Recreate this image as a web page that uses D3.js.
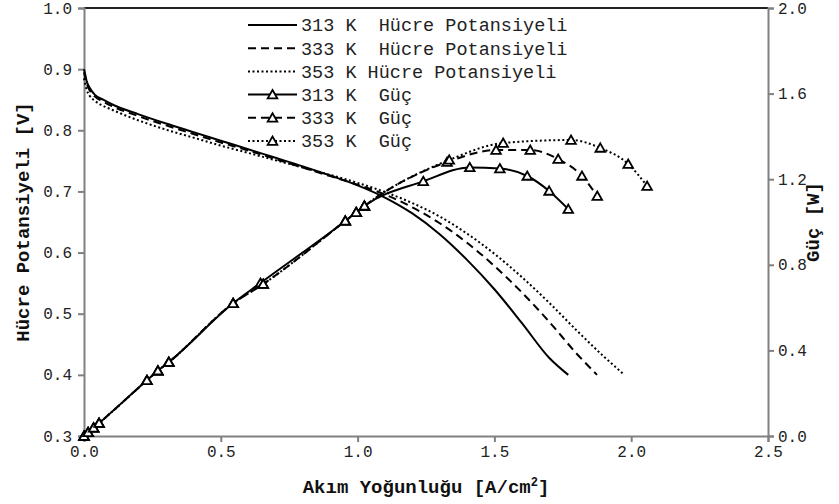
<!DOCTYPE html>
<meta charset="utf-8">
<style>
	body { margin: 0; background: #fff; }
	text { font-family: "Courier New", "Liberation Mono", monospace; }
	.axis path, .axis line { stroke: #808080; stroke-width: 2px; }
	.axis text { font-size: 16px; fill: #222; }
	.title { font-size: 19px; font-weight: bold; fill: #111; }
	.legend text { font-size: 18.5px; fill: #222; }
</style>
<svg id="chart" width="839" height="504"></svg>
<script src="https://d3js.org/d3.v7.min.js"></script>
<script>
	// current density [A/cm2], cell potential [V]
	var v313 = [[0,0.900],[0.005,0.890],[0.01,0.880],[0.02,0.870],[0.04,0.858],[0.07,0.850],[0.1,0.843],[0.2,0.826],[0.3,0.811],[0.4,0.797],[0.5,0.783],[0.6,0.769],[0.7,0.755],[0.8,0.741],[0.9,0.726],[1.0,0.710],[1.1,0.690],[1.2,0.664],[1.3,0.630],[1.4,0.588],[1.5,0.540],[1.6,0.485],[1.7,0.428],[1.77,0.400]];
	var v333 = [[0,0.895],[0.005,0.885],[0.01,0.876],[0.02,0.866],[0.04,0.855],[0.07,0.847],[0.1,0.840],[0.2,0.823],[0.3,0.808],[0.4,0.794],[0.5,0.780],[0.6,0.767],[0.7,0.753],[0.8,0.739],[0.9,0.725],[1.0,0.711],[1.1,0.695],[1.2,0.674],[1.3,0.648],[1.4,0.616],[1.5,0.578],[1.6,0.535],[1.7,0.487],[1.8,0.435],[1.875,0.400]];
	var v353 = [[0,0.885],[0.005,0.875],[0.01,0.866],[0.02,0.857],[0.04,0.848],[0.07,0.840],[0.1,0.834],[0.2,0.816],[0.3,0.801],[0.4,0.788],[0.5,0.775],[0.6,0.763],[0.7,0.751],[0.8,0.739],[0.9,0.727],[1.0,0.714],[1.1,0.699],[1.2,0.681],[1.3,0.659],[1.4,0.631],[1.5,0.598],[1.6,0.560],[1.7,0.518],[1.8,0.473],[1.9,0.430],[1.975,0.400]];

	// current density [A/cm2], power [W]
	var p313 = [[0,0],[0.015,0.017],[0.035,0.038],[0.055,0.060],[0.23,0.26],[0.27,0.305],[0.31,0.345],[0.545,0.62],[0.645,0.715],[0.955,1.005],[0.995,1.045],[1.025,1.075],[1.24,1.19],[1.41,1.255],[1.52,1.25],[1.62,1.215],[1.70,1.145],[1.77,1.06]];
	var p333 = [[0,0],[0.015,0.017],[0.035,0.038],[0.055,0.060],[0.23,0.26],[0.27,0.305],[0.31,0.345],[0.545,0.62],[0.655,0.71],[0.955,1.005],[0.995,1.045],[1.025,1.075],[1.327,1.28],[1.506,1.336],[1.631,1.336],[1.733,1.294],[1.82,1.215],[1.876,1.121]];
	var p353 = [[0,0],[0.015,0.017],[0.035,0.038],[0.055,0.060],[0.23,0.26],[0.27,0.305],[0.31,0.345],[0.545,0.62],[0.655,0.71],[0.955,1.005],[0.995,1.045],[1.025,1.075],[1.335,1.29],[1.532,1.369],[1.78,1.383],[1.887,1.346],[1.989,1.271],[2.058,1.168]];

	var xTicks = [0, 0.5, 1.0, 1.5, 2.0, 2.5];
	var yLeftTicks = [0.3, 0.4, 0.5, 0.6, 0.7, 0.8, 0.9, 1.0];
	var yRightTicks = [0, 0.4, 0.8, 1.2, 1.6, 2.0];

	var legendLabels = ["313 K  Hücre Potansiyeli", "333 K  Hücre Potansiyeli", "353 K Hücre Potansiyeli", "313 K  Güç", "333 K  Güç", "353 K  Güç"];

	var svg = d3.select("#chart"),
		margin = {top: 8, right: 71, bottom: 68, left: 84},
		width = +svg.attr("width") - margin.left - margin.right,
		height = +svg.attr("height") - margin.top - margin.bottom,
		g = svg.append("g").attr("transform", "translate(" + margin.left + "," + margin.top + ")");

	var x = d3.scaleLinear().domain([0, 2.5]).range([0, width]),
		yL = d3.scaleLinear().domain([0.3, 1.0]).range([height, 0]),
		yR = d3.scaleLinear().domain([0, 2.0]).range([height, 0]);

	var dashes = ["none", "8,5", "2,2.5"];

	// top border of plot area
	g.append("line")
		.attr("x1", 0).attr("x2", width)
		.attr("y1", 0).attr("y2", 0)
		.attr("stroke", "#222").attr("stroke-width", 2);

	g.append("g")
		.attr("class", "axis")
		.attr("transform", "translate(0," + height + ")")
		.call(d3.axisBottom(x).tickValues(xTicks).tickFormat(d3.format(".1f")).tickSizeOuter(0).tickSize(6).tickPadding(4));

	g.append("g")
		.attr("class", "axis")
		.call(d3.axisLeft(yL).tickValues(yLeftTicks).tickFormat(d3.format(".1f")).tickSizeOuter(0).tickSize(6).tickPadding(6));

	g.append("g")
		.attr("class", "axis")
		.attr("transform", "translate(" + width + ",0)")
		.call(d3.axisRight(yR).tickValues(yRightTicks).tickFormat(d3.format(".1f")).tickSizeOuter(0).tickSize(6).tickPadding(4));

	var lineV = d3.line()
		.curve(d3.curveMonotoneX)
		.x(function(d) { return x(d[0]); })
		.y(function(d) { return yL(d[1]); });

	var lineP = d3.line()
		.curve(d3.curveMonotoneX)
		.x(function(d) { return x(d[0]); })
		.y(function(d) { return yR(d[1]); });

	[v313, v333, v353].forEach(function(s, i) {
		g.append("path")
			.attr("d", lineV(s))
			.attr("fill", "none")
			.attr("stroke", "#000")
			.attr("stroke-width", 2)
			.attr("stroke-dasharray", dashes[i]);
	});

	var tri = d3.symbol().type(d3.symbolTriangle).size(40);

	[p313, p333, p353].forEach(function(s, i) {
		g.append("path")
			.attr("d", lineP(s))
			.attr("fill", "none")
			.attr("stroke", "#000")
			.attr("stroke-width", 2)
			.attr("stroke-dasharray", dashes[i]);
		g.selectAll(".m" + i)
			.data(s)
			.enter().append("path")
			.attr("class", "m" + i)
			.attr("d", tri)
			.attr("transform", function(d) { return "translate(" + x(d[0]) + "," + (yR(d[1]) + 1) + ")"; })
			.attr("fill", "#fff")
			.attr("stroke", "#000")
			.attr("stroke-width", 1.8);
	});

	// legend
	var legend = svg.append("g").attr("class", "legend").attr("transform", "translate(248,25)");
	legendLabels.forEach(function(label, i) {
		var row = legend.append("g").attr("transform", "translate(0," + (i * 23.2) + ")");
		row.append("line")
			.attr("x1", 0).attr("x2", 49)
			.attr("y1", 0).attr("y2", 0)
			.attr("stroke", "#000")
			.attr("stroke-width", 2)
			.attr("stroke-dasharray", dashes[i % 3]);
		if (i >= 3) {
			row.append("path")
				.attr("d", tri)
				.attr("transform", "translate(24.5,1)")
				.attr("fill", "#fff")
				.attr("stroke", "#000")
				.attr("stroke-width", 1.8);
		}
		row.append("text")
			.attr("x", 53)
			.attr("dy", "0.35em")
			.attr("xml:space", "preserve")
			.style("white-space", "pre")
			.text(label);
	});

	// axis titles
	svg.append("text")
		.attr("class", "title")
		.attr("transform", "translate(22," + (margin.top + height / 2) + ") rotate(-90)")
		.attr("text-anchor", "middle")
		.attr("dy", "0.35em")
		.text("Hücre Potansiyeli [V]");

	svg.append("text")
		.attr("class", "title")
		.attr("transform", "translate(812," + (margin.top + height / 2) + ") rotate(-90)")
		.attr("text-anchor", "middle")
		.attr("dy", "0.35em")
		.text("Güç [W]");

	var xt = svg.append("text")
		.attr("class", "title")
		.attr("x", margin.left + width / 2)
		.attr("y", 493)
		.attr("text-anchor", "middle");
	xt.append("tspan").text("Akım Yoğunluğu [A/cm");
	xt.append("tspan").attr("dy", -7).attr("font-size", "12px").text("2");
	xt.append("tspan").attr("dy", 7).text("]");
</script>
